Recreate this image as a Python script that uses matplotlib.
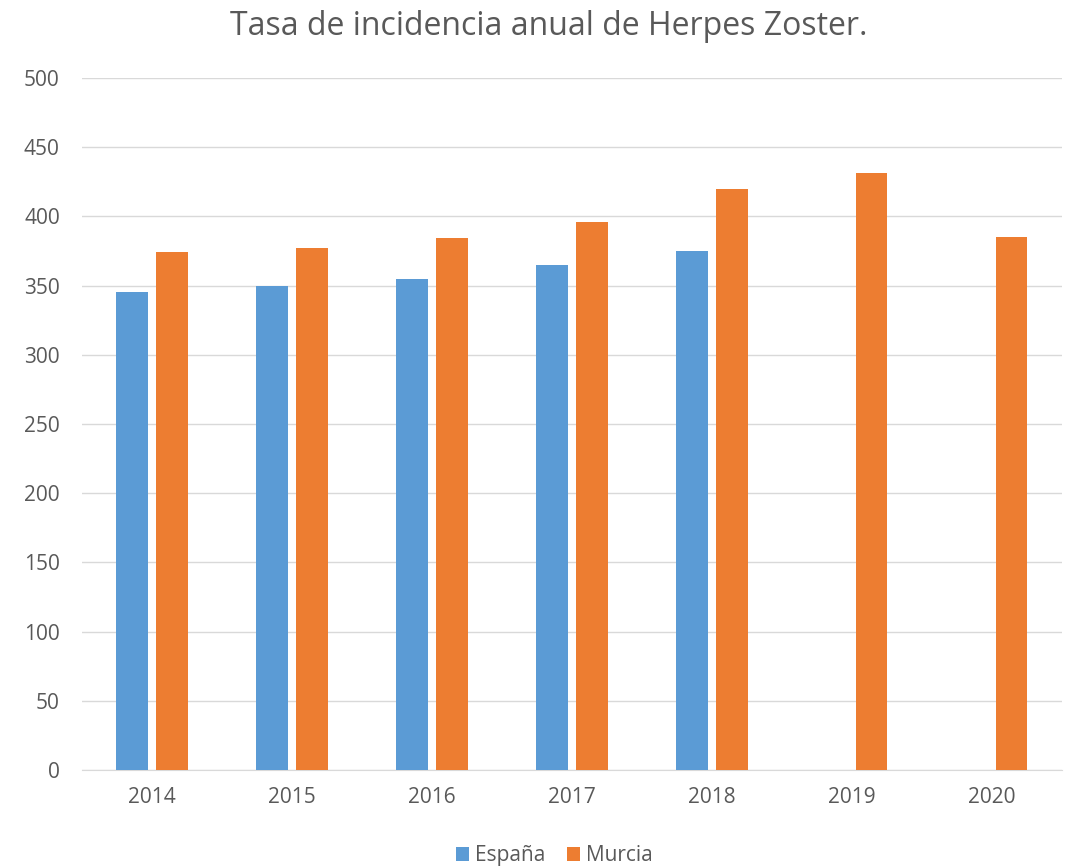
import matplotlib
matplotlib.use("Agg")
import matplotlib.pyplot as plt
import numpy as np

years = ["2014", "2015", "2016", "2017", "2018", "2019", "2020"]
espana = [345, 350, 355, 365, 375, None, None]
murcia = [374, 377, 384, 396, 420, 431, 385]

plt.rcParams['font.family'] = ['Open Sans', 'DejaVu Sans']

fig = plt.figure(figsize=(10.66, 8.66), dpi=100)
ax = fig.add_axes([0.0769, 0.1109, 0.9191, 0.7991])

x = np.arange(len(years))
w = 0.225
gap = 0.06
off = w / 2 + gap / 2
esp_x = [xi - off for xi, v in zip(x, espana) if v is not None]
esp_v = [v for v in espana if v is not None]
ax.bar(esp_x, esp_v, width=w, color="#5B9BD5", label="España", zorder=3)
ax.bar(x + off, murcia, width=w, color="#ED7D31", label="Murcia", zorder=3)

ax.set_xlim(-0.5, len(years) - 0.5)
ax.set_ylim(0, 500)
ax.set_yticks(range(0, 501, 50))
ax.set_xticks(x)
ax.set_xticklabels(years)
ax.grid(axis="y", color="#D9D9D9", linewidth=1, zorder=0)
for s in ["top", "right", "left"]:
    ax.spines[s].set_visible(False)
ax.spines["bottom"].set_color("#D9D9D9")
ax.tick_params(axis="both", length=0, labelsize=15, colors="#595959")
ax.tick_params(axis="x", pad=12)
ax.tick_params(axis="y", pad=16)

fig.suptitle("Tasa de incidencia anual de Herpes Zoster.", fontsize=23, color="#595959",
             x=0.515, y=0.988)

fig.legend(loc="lower center", bbox_to_anchor=(0.52, -0.022), ncol=2, frameon=False,
           fontsize=15, labelcolor="#595959", handlelength=0.65, handleheight=0.65,
           handletextpad=0.3, columnspacing=1.0)

fig.savefig("out.png", dpi=100)
